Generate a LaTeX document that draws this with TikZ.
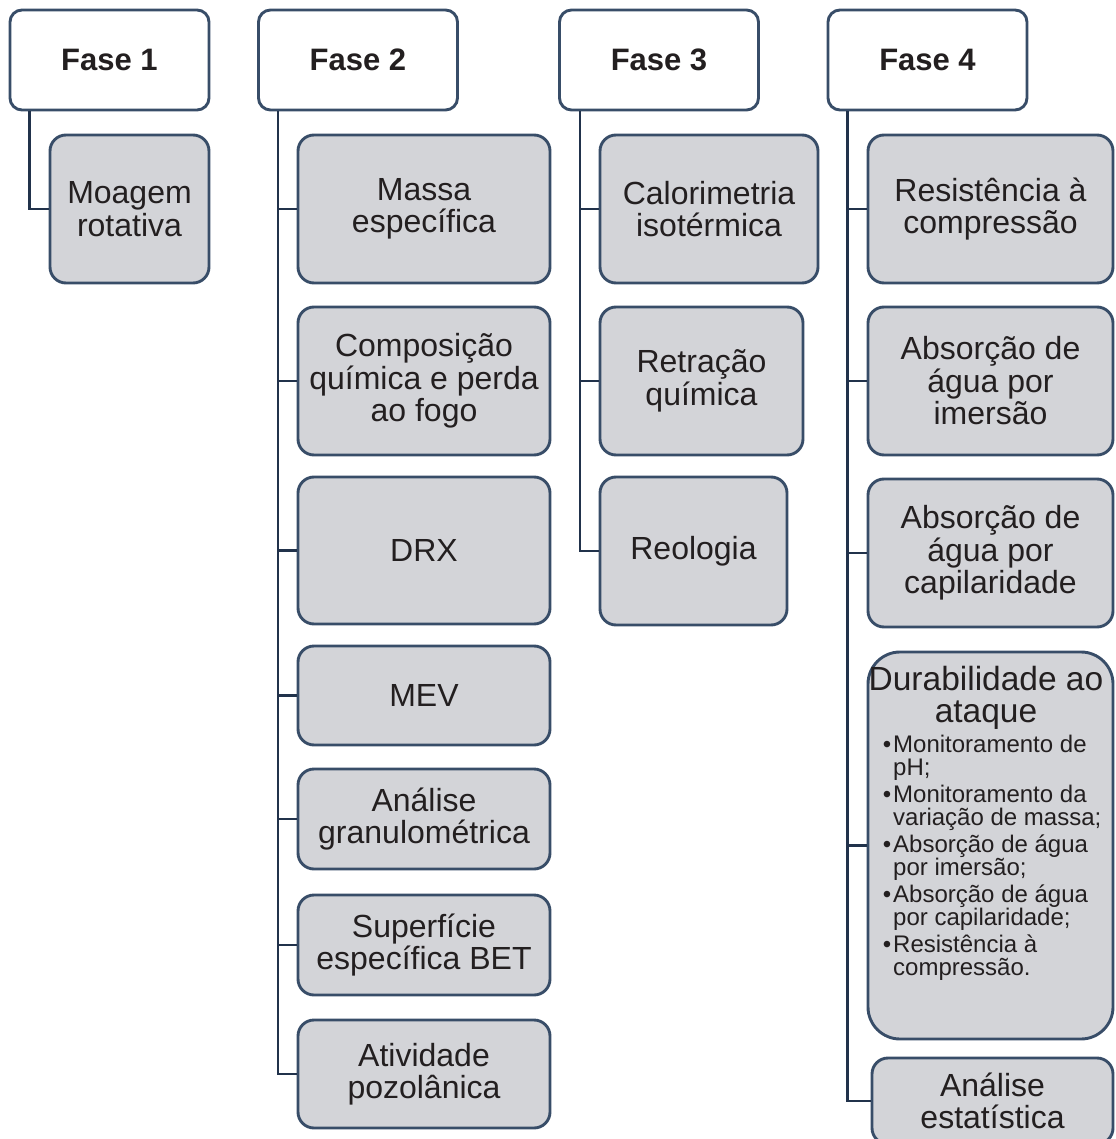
\documentclass[tikz,border=0pt]{standalone}
\usepackage{fontspec}
\setmainfont{Liberation Sans}
\usepackage{xcolor}
\usepackage{tikz}
\definecolor{rimblue}{RGB}{56,77,104}
\definecolor{trunkblue}{RGB}{33,50,75}
\definecolor{cellgray}{RGB}{211,212,216}
\definecolor{inktext}{RGB}{35,31,32}
\newcommand\fasefont{\fontsize{31}{33}\selectfont\bfseries}
\newcommand\etapafont{\fontsize{32}{32.5}\selectfont\lineskiplimit=-40pt}
\newcommand\durtitlefont{\fontsize{33.5}{32}\selectfont\lineskiplimit=-40pt}
\newcommand\itemfont{\fontsize{24}{23}\selectfont\lineskiplimit=-40pt}
\newcommand\itembullet{\llap{•\hspace{2pt}}}
\tikzset{
	fase/.style={draw=rimblue,line width=2.9pt,fill=white,rounded corners=12pt,
		minimum width=199pt,minimum height=100pt,inner sep=0pt,font=\fasefont,text=inktext},
	etapa/.style={draw=rimblue,line width=2.9pt,fill=cellgray,rounded corners=16pt,
		inner sep=0pt,align=center,font=\etapafont,text=inktext},
	dims/.style 2 args={minimum width=#1pt,minimum height=#2pt},
	tronco/.style={draw=trunkblue,line width=2.8pt},
}
\begin{document}
\begin{tikzpicture}[x=1pt,y=-1pt]
	\clip (0,0) rectangle (1115,1139);
	% Fase 1
	\node[fase] (f1) at (109.5,60) {Fase 1};
	\node[etapa,dims={159}{148}] (moagem) at (129.5,209) {Moagem\\rotativa};
	\coordinate (t1) at ([xshift=21pt]f1.south west);
	\draw[tronco] (t1) |- (moagem.west);
	% Fase 2
	\node[fase] (f2) at (358,60) {Fase 2};
	\node[etapa,dims={252}{148}] (massa) at (424,209) {Massa\\específica};
	\node[etapa,dims={252}{148}] (comp) at (424,381) {Composição\\química e perda\\ao fogo};
	\node[etapa,dims={252}{147}] (drx) at (424,550.5) {DRX};
	\node[etapa,dims={252}{99}] (mev) at (424,695.5) {MEV};
	\node[etapa,dims={252}{100}] (gran) at (424,819) {Análise\\granulométrica};
	\node[etapa,dims={252}{100}] (bet) at (424,945) {Superfície\\específica BET};
	\node[etapa,dims={252}{108}] (pozo) at (424,1074) {Atividade\\pozolânica};
	\coordinate (t2) at ([xshift=21pt]f2.south west);
	\foreach \c in {massa,comp,drx,mev,gran,bet,pozo}
		\draw[tronco] (t2) |- (\c.west);
	% Fase 3
	\node[fase] (f3) at (659,60) {Fase 3};
	\node[etapa,dims={218}{148}] (calor) at (709,209) {Calorimetria\\isotérmica};
	\node[etapa,dims={203}{148}] (retra) at (701.5,381) {Retração\\química};
	\node[etapa,dims={187}{148}] (reol) at (693.5,551) {Reologia};
	\coordinate (t3) at ([xshift=22pt]f3.south west);
	\foreach \c in {calor,retra,reol}
		\draw[tronco] (t3) |- (\c.west);
	% Fase 4
	\node[fase] (f4) at (927.5,60) {Fase 4};
	\node[etapa,dims={245}{148}] (resist) at (990.5,209) {Resistência à\\compressão};
	\node[etapa,dims={245}{148}] (imers) at (990.5,381) {Absorção de\\água por\\imersão};
	\node[etapa,dims={245}{148}] (capil) at (990.5,553) {Absorção de\\água por\\capilaridade};
	\node[etapa,rounded corners=32pt,dims={245}{387}] (dur) at (990.5,845.5) {};
	\node[font=\durtitlefont,text=inktext,align=center,anchor=north,inner sep=0pt] (durtit) at (986,666) {Durabilidade ao\\ataque};
	\node[font=\itemfont,text=inktext,align=left,anchor=north west,inner sep=0pt] (durlist) at (893,735) {%
		\itembullet Monitoramento de\\pH;\\[4pt]
		\itembullet Monitoramento da\\variação de massa;\\[4pt]
		\itembullet Absorção de água\\por imersão;\\[4pt]
		\itembullet Absorção de água\\por capilaridade;\\[4pt]
		\itembullet Resistência à\\compressão.};
	\node[etapa,dims={241}{86}] (estat) at (992.5,1101) {Análise\\estatística};
	\coordinate (t4) at ([xshift=21pt]f4.south west);
	\foreach \c in {resist,imers,capil,dur,estat}
		\draw[tronco] (t4) |- (\c.west);
\end{tikzpicture}
\end{document}
